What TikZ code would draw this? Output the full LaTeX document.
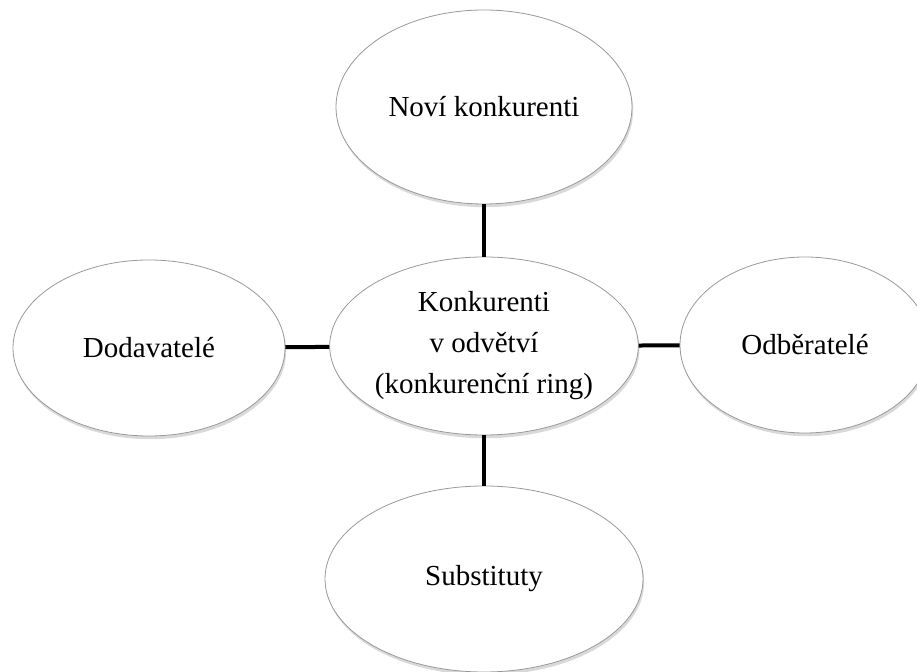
\documentclass[tikz,border=0pt]{standalone}
\usepackage{fontspec}
\setmainfont{Liberation Serif}
\usetikzlibrary{shapes.geometric,shadows}

\begin{document}
\begin{tikzpicture}[x=0.5pt,y=-0.5pt,
	force/.style={shape=ellipse, draw=gray!80, line width=0.4pt, fill=white,
		inner sep=0pt, align=center, font=\fontsize{14.5}{20.5}\selectfont,
		drop shadow={shadow xshift=0.6pt, shadow yshift=-1.6pt, opacity=0.3, fill=gray}},
	link/.style={line width=2pt, black}]
	\useasboundingbox (0,0) rectangle (917,672);
	\clip (0,0) rectangle (917,672);
	\node[force, minimum width=148pt, minimum height=97pt] (novi) at (484,107) {Noví konkurenti};
	\node[force, minimum width=154pt, minimum height=89pt] (ring) at (484,346) {Konkurenti\\v odvětví\\(konkurenční ring)};
	\node[force, minimum width=136pt, minimum height=88pt] (dod) at (149,348) {Dodavatelé};
	\node[force, minimum width=125pt, minimum height=88pt] (odb) at (805,345) {Odběratelé};
	\node[force, minimum width=159pt, minimum height=93pt] (sub) at (484,579) {Substituty};
	
	\path [link]
	(novi) edge (ring)
	(dod) edge (ring)
	(ring) edge (odb)
	(ring) edge (sub);
\end{tikzpicture}
\end{document}
